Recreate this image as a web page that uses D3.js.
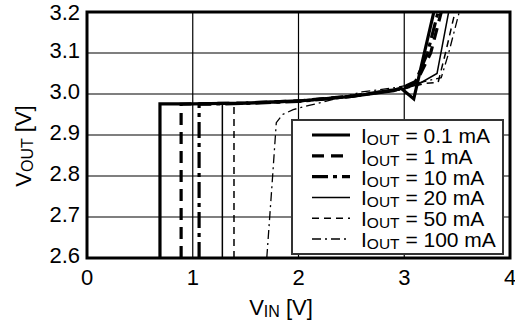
<!DOCTYPE html>
<html>
<head>
<meta charset="utf-8">
<script src="https://cdn.jsdelivr.net/npm/d3@7"></script>
<style>
  html, body { margin: 0; padding: 0; background: #fff; }
  svg { display: block; font-family: "Liberation Sans", Arial, sans-serif; }
</style>
</head>
<body>
<svg id="chart" width="515" height="325"></svg>
<script>
// ---- data ----
const xTicks = [0, 1, 2, 3, 4];
const yTicks = [2.6, 2.7, 2.8, 2.9, 3.0, 3.1, 3.2];
const seriesNames = ["0.1 mA", "1 mA", "10 mA", "20 mA", "50 mA", "100 mA"];

const vin_01 = [0.69, 0.69, 1.0, 1.5, 2.0, 2.5, 2.9, 2.97, 3.09, 3.19, 3.28];
const vout_01 = [2.6, 2.976, 2.976, 2.978, 2.983, 2.994, 3.008, 3.014, 2.988, 3.1, 3.2];

const vin_1 = [0.89, 0.89, 1.0, 1.5, 2.0, 2.5, 2.95, 3.12, 3.25, 3.35];
const vout_1 = [2.6, 2.975, 2.976, 2.978, 2.983, 2.995, 3.012, 3.032, 3.1, 3.2];

const vin_10 = [1.06, 1.06, 1.5, 2.0, 2.5, 3.0, 3.1, 3.22, 3.32];
const vout_10 = [2.6, 2.975, 2.977, 2.982, 2.994, 3.014, 3.026, 3.1, 3.2];

const vin_20 = [1.28, 1.28, 1.5, 2.0, 2.5, 3.0, 3.12, 3.31, 3.42];
const vout_20 = [2.6, 2.976, 2.977, 2.982, 2.994, 3.014, 3.022, 3.05, 3.2];

const vin_50 = [1.39, 1.39, 1.5, 2.0, 2.5, 3.0, 3.2, 3.32, 3.39, 3.48];
const vout_50 = [2.6, 2.975, 2.976, 2.981, 2.993, 3.013, 3.026, 3.028, 3.1, 3.2];

const vin_100 = [1.70, 1.75, 1.79, 1.85, 1.95, 2.1, 2.3, 2.6, 2.9, 3.1, 3.35, 3.42, 3.52];
const vout_100 = [2.6, 2.78, 2.93, 2.95, 2.962, 2.972, 2.985, 3.005, 3.015, 3.025, 3.04, 3.1, 3.2];

const seriesVin = [vin_01, vin_1, vin_10, vin_20, vin_50, vin_100];
const seriesVout = [vout_01, vout_1, vout_10, vout_20, vout_50, vout_100];

// ---- styles ----
const styles = [
  { w: 3.2, dash: null },
  { w: 3.2, dash: "12,7" },
  { w: 3.2, dash: "16,5,4,5" },
  { w: 1.5, dash: null },
  { w: 1.5, dash: "7,5" },
  { w: 1.3, dash: "9,4,2,4" }
];

const svg = d3.select("#chart");
const x = d3.scaleLinear().domain([0, 4]).range([87, 510]);
const y = d3.scaleLinear().domain([2.6, 3.2]).range([258, 12]);

// gridlines
svg.append("g").selectAll("line.gx").data(xTicks).join("line")
  .attr("x1", d => x(d)).attr("x2", d => x(d))
  .attr("y1", y(3.2)).attr("y2", y(2.6))
  .attr("stroke", "#000").attr("stroke-width", 1.2);
svg.append("g").selectAll("line.gy").data(yTicks).join("line")
  .attr("x1", x(0)).attr("x2", x(4))
  .attr("y1", d => y(d)).attr("y2", d => y(d))
  .attr("stroke", "#000").attr("stroke-width", 1.2);

// clip
svg.append("clipPath").attr("id", "clip").append("rect")
  .attr("x", x(0)).attr("y", y(3.2))
  .attr("width", x(4) - x(0)).attr("height", y(2.6) - y(3.2));

const line = d3.line().x(d => x(d[0])).y(d => y(d[1]));
const gLines = svg.append("g").attr("clip-path", "url(#clip)");
seriesVin.forEach((vs, i) => {
  const pts = vs.map((v, j) => [v, seriesVout[i][j]]);
  gLines.append("path")
    .attr("d", line(pts))
    .attr("fill", "none")
    .attr("stroke", "#000")
    .attr("stroke-width", styles[i].w)
    .attr("stroke-dasharray", styles[i].dash)
    .attr("stroke-linejoin", "miter");
});

// legend
const lg = svg.append("g");
lg.append("rect").attr("x", 292).attr("y", 120).attr("width", 211).attr("height", 134)
  .attr("fill", "#fff").attr("stroke", "#333").attr("stroke-width", 2);
seriesNames.forEach((name, i) => {
  const cy = 135 + i * 20.8;
  lg.append("line").attr("x1", 312).attr("x2", 350).attr("y1", cy).attr("y2", cy)
    .attr("stroke", "#000").attr("stroke-width", styles[i].w)
    .attr("stroke-dasharray", styles[i].dash);
  const t = lg.append("text").attr("x", 361).attr("y", cy + 8)
    .attr("font-size", 21).attr("fill", "#000");
  t.append("tspan").text("I");
  t.append("tspan").attr("font-size", 15.5).attr("dy", 2).text("OUT");
  t.append("tspan").attr("dy", -2).text(" = " + name);
});

// frame
svg.append("rect").attr("x", x(0)).attr("y", y(3.2))
  .attr("width", x(4) - x(0)).attr("height", y(2.6) - y(3.2))
  .attr("fill", "none").attr("stroke", "#000").attr("stroke-width", 3);

// tick labels
svg.append("g").selectAll("text").data(yTicks).join("text")
  .attr("x", 80).attr("y", d => Math.max(y(d) + 5, 20))
  .attr("text-anchor", "end").attr("font-size", 22).attr("fill", "#000")
  .text(d => d3.format(".1f")(d));
svg.append("g").selectAll("text").data(xTicks).join("text")
  .attr("x", d => x(d)).attr("y", 285)
  .attr("text-anchor", "middle").attr("font-size", 22).attr("fill", "#000")
  .text(d => d);

// axis titles
const xt = svg.append("text").attr("x", 281).attr("y", 315)
  .attr("text-anchor", "middle").attr("font-size", 22).attr("fill", "#000");
xt.append("tspan").text("V");
xt.append("tspan").attr("font-size", 16).attr("dy", 2).text("IN");
xt.append("tspan").attr("dy", -2).text(" [V]");

const yt = svg.append("text").attr("transform", "translate(31,146) rotate(-90)")
  .attr("text-anchor", "middle").attr("font-size", 22).attr("fill", "#000");
yt.append("tspan").text("V");
yt.append("tspan").attr("font-size", 16).attr("dy", 2).text("OUT");
yt.append("tspan").attr("dy", -2).text(" [V]");
</script>
</body>
</html>
